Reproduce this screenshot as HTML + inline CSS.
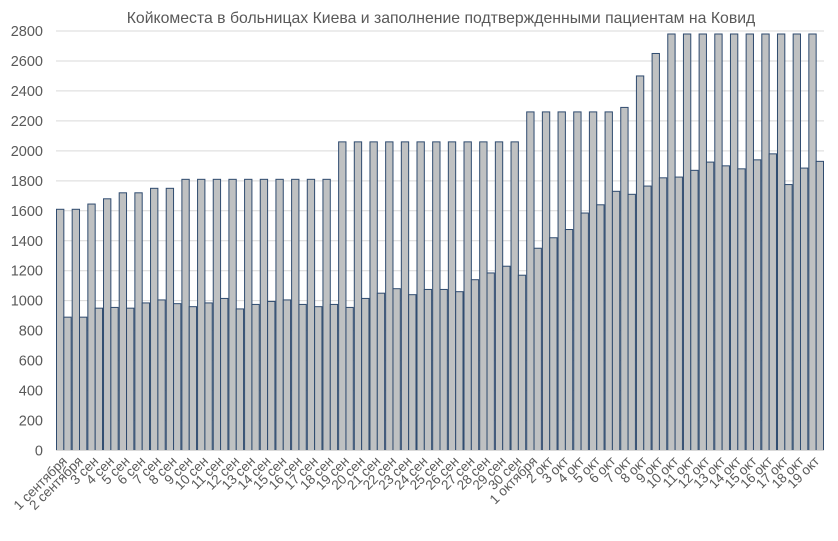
<!DOCTYPE html>
<html><head><meta charset="utf-8"><style>
html,body{margin:0;padding:0;background:#fff;}
svg{display:block;font-family:"Liberation Sans","DejaVu Sans",sans-serif;}
</style></head><body>
<svg id="chart" width="838" height="541" viewBox="0 0 838 541" xmlns="http://www.w3.org/2000/svg">
<text x="441" y="23" text-anchor="middle" font-size="15.8" fill="#595959">Койкоместа в больницах Киева и заполнение подтвержденными пациентам на Ковид</text>
<g id="grid"></g>
<g id="yaxis"></g>
<g id="bars"></g>
<g id="xaxis"></g>
</svg>
<script>
const categories = ["1 сентября","2 сентября","3 сен","4 сен","5 сен","6 сен","7 сен","8 сен","9 сен","10 сен","11 сен","12 сен","13 сен","14 сен","15 сен","16 сен","17 сен","18 сен","19 сен","20 сен","21 сен","22 сен","23 сен","24 сен","25 сен","26 сен","27 сен","28 сен","29 сен","30 сен","1 октября","2 окт","3 окт","4 окт","5 окт","6 окт","7 окт","8 окт","9 окт","10 окт","11 окт","12 окт","13 окт","14 окт","15 окт","16 окт","17 окт","18 окт","19 окт"];
const capacity = [1610,1610,1645,1680,1720,1720,1750,1750,1810,1810,1810,1810,1810,1810,1810,1810,1810,1810,2060,2060,2060,2060,2060,2060,2060,2060,2060,2060,2060,2060,2260,2260,2260,2260,2260,2260,2290,2500,2650,2780,2780,2780,2780,2780,2780,2780,2780,2780,2780];
const occupied = [890,890,950,955,950,985,1005,980,960,985,1015,945,975,995,1005,975,960,975,955,1015,1050,1080,1040,1075,1075,1060,1140,1185,1230,1170,1350,1420,1475,1585,1640,1730,1710,1765,1820,1825,1870,1925,1900,1880,1940,1980,1775,1885,1930];
const yTicks = [0,200,400,600,800,1000,1200,1400,1600,1800,2000,2200,2400,2600,2800];

const NS="http://www.w3.org/2000/svg";
const x0=56,x1=824,yBase=450.5,yTop=31;
const yMax=2800;
const y=v=>yBase-(v/yMax)*(yBase-yTop);
const gw=(x1-x0)/categories.length;
const bw=gw*0.5;
function mk(tag,attrs,parent){const e=document.createElementNS(NS,tag);for(const k in attrs)e.setAttribute(k,attrs[k]);parent.appendChild(e);return e;}
const grid=document.getElementById('grid'),ya=document.getElementById('yaxis'),bars=document.getElementById('bars'),xa=document.getElementById('xaxis');
yTicks.forEach(t=>{
  const l=mk('line',{x1:x0,x2:x1,y1:y(t),y2:y(t),stroke:'#d9d9d9','stroke-width':1},grid);
  
  
  const tx=mk('text',{x:43,y:y(t)+5,'text-anchor':'end','font-size':14.5,fill:'#595959'},ya);
  tx.textContent=t;
  
  
});
categories.forEach((c,i)=>{
  const gx=x0+i*gw;
  const b1=mk('rect',{x:gx+0.5,y:y(capacity[i]),width:bw-0.5,height:yBase-y(capacity[i]),fill:'#bfc1c2',stroke:'#2f4b6f','stroke-width':1},bars);
  
  
  const b2=mk('rect',{x:gx+bw,y:y(occupied[i]),width:bw-0.5,height:yBase-y(occupied[i]),fill:'#bfc1c2',stroke:'#2f4b6f','stroke-width':1},bars);
  
  
  const cx=gx+gw/2+4;
  const t=mk('text',{x:cx,y:462,'text-anchor':'end','font-size':13.5,fill:'#595959',transform:`rotate(-45 ${cx} 462)`},xa);
  t.textContent=c;
  
  
});
const ax=mk('line',{x1:x0,x2:x1,y1:yBase,y2:yBase,stroke:'#d9d9d9','stroke-width':1},xa);


</script>
</body></html>
